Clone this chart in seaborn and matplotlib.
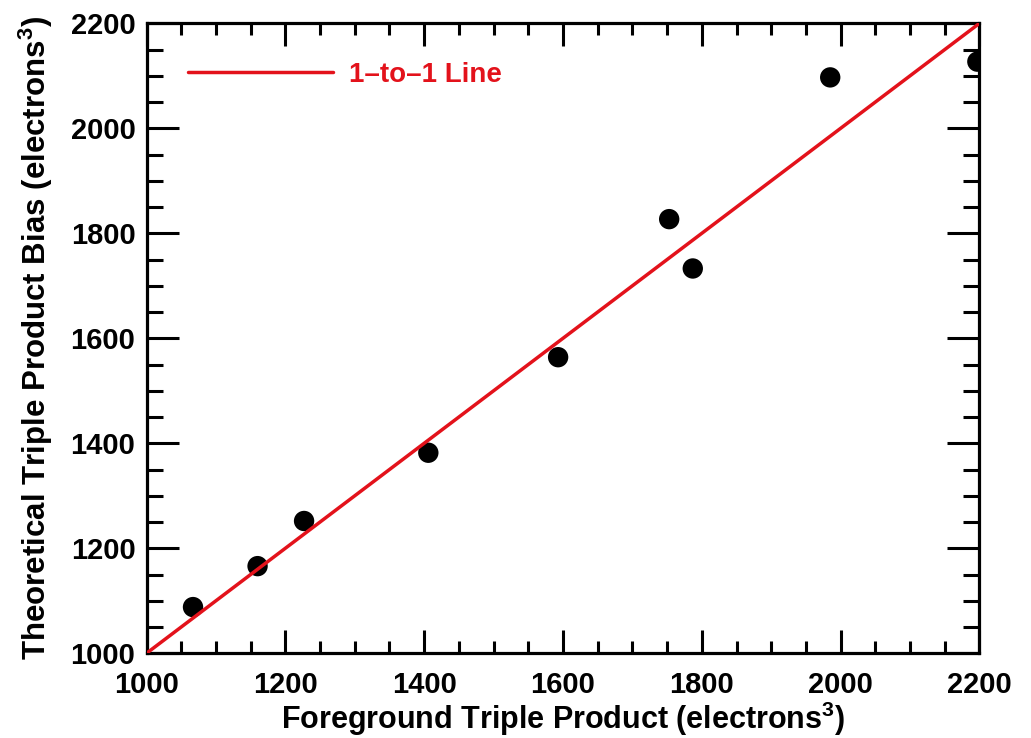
import matplotlib
matplotlib.use("Agg")
import matplotlib.pyplot as plt
from matplotlib.ticker import MultipleLocator
import seaborn as sns
import pandas as pd

# Measured triple products (electrons^3)
foreground = [1067, 1160, 1227, 1406, 1593, 1753, 1787, 1985, 2197]
theoretical = [1088, 1166, 1252, 1382, 1564, 1827, 1733, 2097, 2127]
one_to_one = [1000, 2200]
legend_label = "1\u2013to\u20131 Line"
x_label = "Foreground Triple Product (electrons$^{\\mathbf{3}}$)"
y_label = "Theoretical Triple Product Bias (electrons$^{\\mathbf{3}}$)"

sns.set_theme(style="ticks")
plt.rcParams["font.family"] = ["Liberation Sans", "DejaVu Sans"]
plt.rcParams["font.weight"] = "bold"
plt.rcParams["mathtext.fontset"] = "custom"
plt.rcParams["mathtext.bf"] = "Liberation Sans:bold"
plt.rcParams["mathtext.rm"] = "Liberation Sans:bold"
for key in ("text.color", "axes.labelcolor", "xtick.color", "ytick.color",
            "axes.edgecolor"):
    plt.rcParams[key] = "black"

RED = "#e3121b"

df = pd.DataFrame({"fg": foreground, "th": theoretical})
line_df = pd.DataFrame({"x": one_to_one, "y": one_to_one})

fig = plt.figure(figsize=(10.31, 7.38), dpi=100)
ax = fig.add_axes([0.1421, 0.1148, 0.8079, 0.8536])

sns.lineplot(data=line_df, x="x", y="y", ax=ax, color=RED, lw=2.5,
             label=legend_label, zorder=3)
sns.scatterplot(data=df, x="fg", y="th", ax=ax, color="black", s=215,
                edgecolor="none", zorder=2)

ax.set_xlim(1000, 2200)
ax.set_ylim(1000, 2200)
ax.xaxis.set_major_locator(MultipleLocator(200))
ax.xaxis.set_minor_locator(MultipleLocator(50))
ax.yaxis.set_major_locator(MultipleLocator(200))
ax.yaxis.set_minor_locator(MultipleLocator(50))

for side in ax.spines.values():
    side.set_linewidth(2.3)
    side.set_color("black")
    side.set_visible(True)

ax.tick_params(axis="x", which="both", direction="in", top=True, bottom=True,
               width=2.2, color="black", labelcolor="black", labelsize=21,
               pad=13)
ax.tick_params(axis="x", which="major", length=16.5)
ax.tick_params(axis="x", which="minor", length=8.3)
ax.tick_params(axis="y", which="both", direction="in", left=True, right=True,
               width=2.2, color="black", labelcolor="black", labelsize=21,
               pad=8)
ax.tick_params(axis="y", which="major", length=23)
ax.tick_params(axis="y", which="minor", length=11.5)
for lbl in ax.get_xticklabels() + ax.get_yticklabels():
    lbl.set_fontweight("bold")

ax.set_xlabel(x_label, fontsize=22, fontweight="bold", labelpad=0)
ax.set_ylabel(y_label, fontsize=22.5, fontweight="bold", labelpad=11)

leg = ax.legend(loc="upper left", bbox_to_anchor=(0.02, 0.979), frameon=False,
                handlelength=5.2, handletextpad=0.6,
                prop={"weight": "bold", "size": 20})
for t in leg.get_texts():
    t.set_color(RED)

fig.savefig("out.png", dpi=100, facecolor="white")
